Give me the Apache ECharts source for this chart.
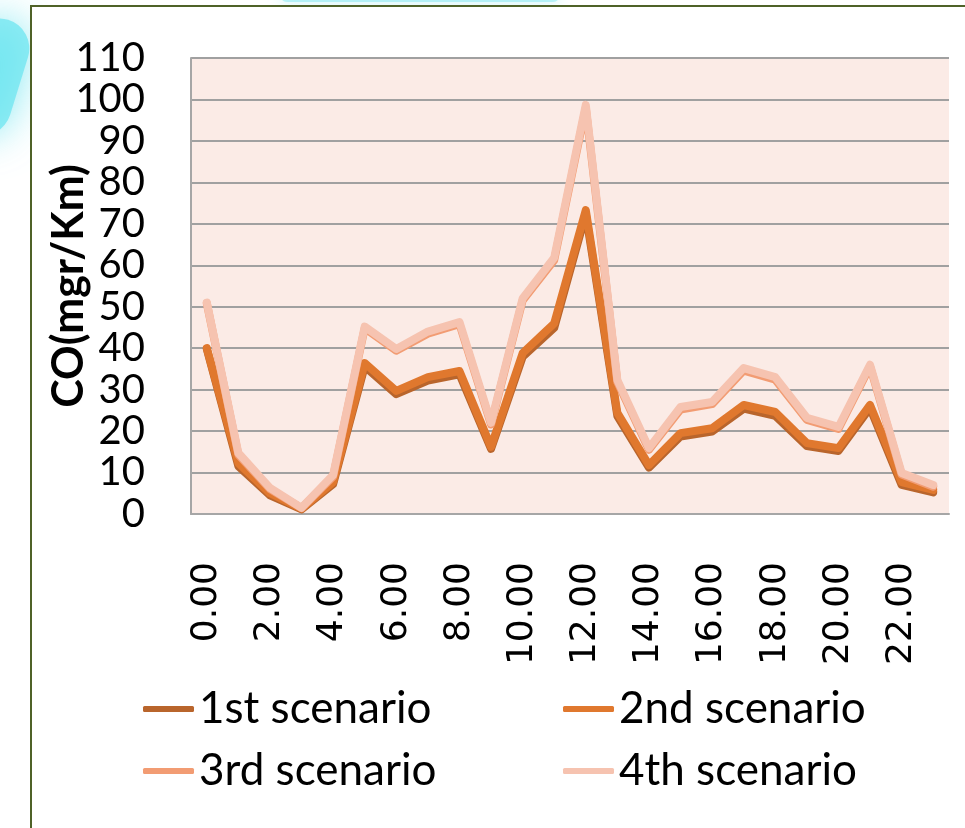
<!DOCTYPE html>
<html>
<head>
<meta charset="utf-8">
<script src="https://cdn.jsdelivr.net/npm/echarts@6/dist/echarts.min.js"></script>
<style>
  html, body { margin: 0; padding: 0; background: #ffffff; }
  #chart { width: 965px; height: 828px; }
</style>
</head>
<body>
<div id="chart"></div>
<script>
// Hours of the day (category axis) and CO emission per scenario (mgr/Km)
const hours = ['0.00','1.00','2.00','3.00','4.00','5.00','6.00','7.00','8.00','9.00','10.00','11.00',
               '12.00','13.00','14.00','15.00','16.00','17.00','18.00','19.00','20.00','21.00','22.00','23.00'];
const scenarioNames = ['1st scenario', '2nd scenario', '3rd scenario', '4th scenario'];
const scenario1 = [39.8, 11.5, 4.5, 1.1, 7.2, 35.6, 28.9, 32.2, 33.7, 15.7, 37.9, 44.9, 72.4, 23.6, 11.2, 18.7, 19.9, 25.4, 23.7, 16.4, 15.2, 25.6, 7.0, 5.2];
const scenario2 = [40.0, 12.3, 5.0, 1.3, 7.7, 36.4, 29.7, 33.0, 34.5, 16.2, 38.8, 46.0, 73.3, 24.4, 11.8, 19.5, 20.7, 26.3, 24.6, 17.1, 15.9, 26.3, 7.7, 5.8];
const scenario3 = [50.8, 14.3, 6.0, 1.4, 9.0, 44.8, 39.4, 43.5, 45.8, 21.6, 51.5, 61.2, 98.0, 31.8, 15.5, 25.2, 26.5, 34.6, 32.4, 22.7, 20.5, 35.6, 9.5, 6.6];
const scenario4 = [51.0, 14.7, 6.3, 1.5, 9.4, 45.2, 39.8, 44.0, 46.3, 22.0, 52.0, 61.8, 98.7, 32.3, 15.9, 25.8, 27.0, 35.2, 33.0, 23.2, 21.0, 36.0, 9.9, 7.0];
const yMin = 0, yMax = 110, yStep = 10;

const colors = ['#b9652c', '#e0782e', '#f29c73', '#f6c3b0'];
const values = [scenario1, scenario2, scenario3, scenario4];

const chart = echarts.init(document.getElementById('chart'), null, { renderer: 'canvas' });

const legendPos = [
  { left: 138, top: 682 },
  { left: 558, top: 682 },
  { left: 138, top: 744 },
  { left: 558, top: 744 }
];

chart.setOption({
  animation: false,
  backgroundColor: '#ffffff',
  color: colors,
  graphic: [
    // soft cyan glow outside the frame
    { type: 'rect', z: -10, shape: { x: -40, y: 20, width: 60, height: 120, r: 30 },
      rotation: -0.3, originX: 0, originY: 80,
      style: { fill: 'rgba(110,230,240,0.75)', shadowBlur: 40, shadowColor: 'rgba(100,226,238,1)' } },
    { type: 'rect', z: -10, shape: { x: 280, y: -12, width: 280, height: 14, r: 7 },
      style: { fill: 'rgba(140,234,242,0.55)', shadowBlur: 16, shadowColor: 'rgba(130,232,240,0.8)' } },
    // chart frame
    { type: 'rect', z: -9, shape: { x: 31, y: 6, width: 1000, height: 900 },
      style: { fill: '#ffffff', stroke: '#4f6228', lineWidth: 2 } }
  ],
  grid: {
    left: 191, top: 58, right: 16, bottom: 314,
    show: true, backgroundColor: '#fbebe6', borderWidth: 0, z: 0
  },
  legend: scenarioNames.map((n, i) => ({
    data: [n],
    left: legendPos[i].left, top: legendPos[i].top,
    icon: 'roundRect', itemWidth: 51, itemHeight: 6, itemGap: 0,
    textStyle: { fontFamily: 'Lato', fontSize: 44, color: '#000000', padding: [0, 0, 0, 0] }
  })),
  xAxis: {
    type: 'category',
    data: hours,
    boundaryGap: true,
    z: 3,
    axisLine: { show: true, lineStyle: { color: '#a6a6a6', width: 2 } },
    axisTick: { show: false },
    axisLabel: {
      interval: 1, rotate: 90, margin: 48,
      fontFamily: '"DejaVu Sans", Verdana, sans-serif', fontSize: 36, color: '#000000'
    },
    splitLine: { show: false }
  },
  yAxis: {
    type: 'value',
    min: yMin, max: yMax, interval: yStep,
    z: 3,
    name: 'CO(mgr/Km)',
    nameLocation: 'middle', nameRotate: 90, nameGap: 100,
    nameMoveOverlap: false,
    nameTextStyle: { fontFamily: 'Lato', fontWeight: 'bold', fontSize: 43, color: '#000000' },
    axisLine: { show: true, lineStyle: { color: '#a6a6a6', width: 2 } },
    axisTick: { show: false },
    axisLabel: { margin: 46, fontFamily: 'Lato', fontSize: 40, color: '#000000' },
    splitLine: { show: true, lineStyle: { color: '#a0a0a0', width: 2 } }
  },
  series: scenarioNames.map((n, i) => ({
    name: n,
    type: 'line',
    data: values[i],
    symbol: 'none',
    z: 5 + i,
    lineStyle: { width: 8, color: colors[i], cap: 'round', join: 'round' },
    itemStyle: { color: colors[i] }
  }))
});
</script>
</body>
</html>
